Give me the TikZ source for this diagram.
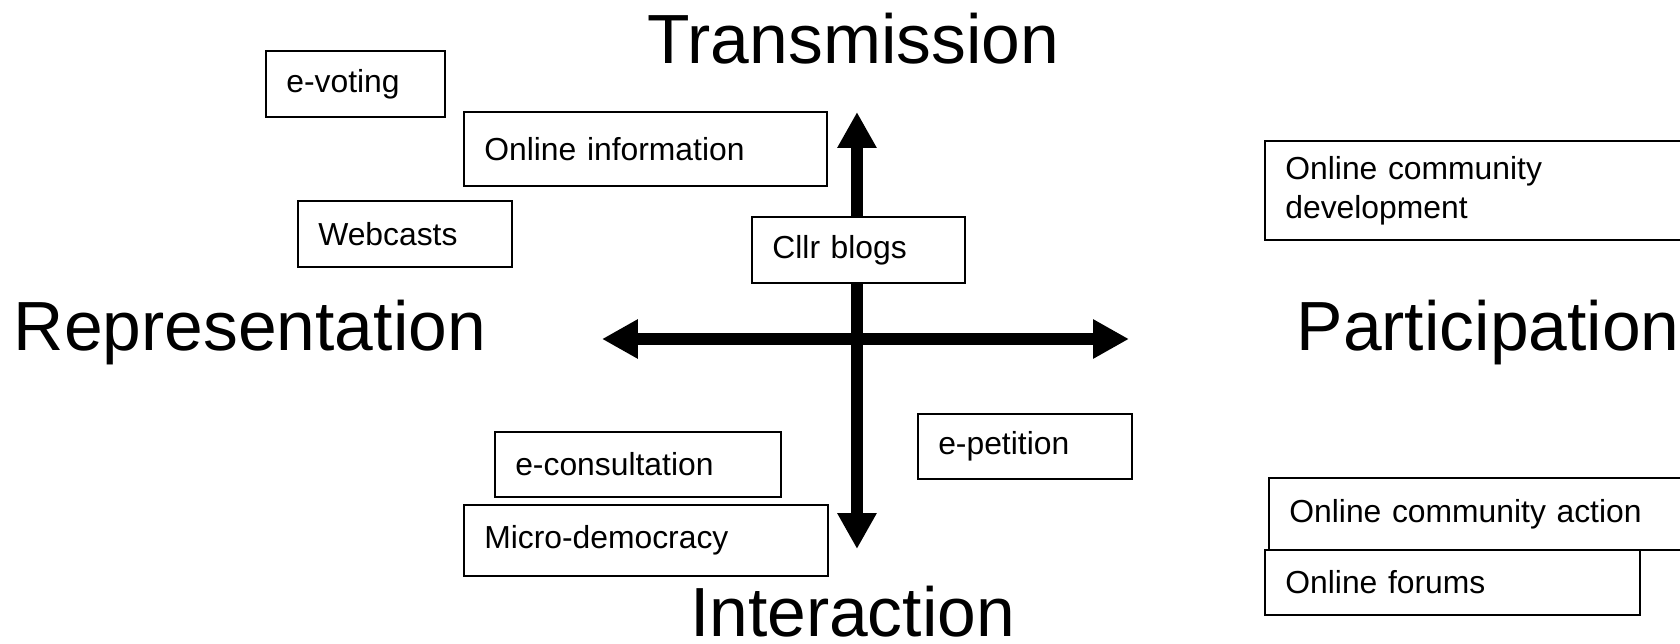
\documentclass[tikz,border=0pt]{standalone}
\usepackage{fontspec}
\setmainfont{Liberation Sans}
\usetikzlibrary{arrows.meta}

\begin{document}
\begin{tikzpicture}[
  x=1cm,
  y=1cm,
  font=\fontsize{15.1}{18.6}\selectfont,
  box/.style={draw, line width=0.9pt, fill=white, align=left, inner xsep=0.34cm, inner ysep=0pt, text width=#1},
  pole/.style={font=\fontsize{33}{39}\selectfont, inner sep=0pt, anchor=base},
  axis/.style={line width=5.6pt, {Triangle[length=17pt,width=17.5pt]}-{Triangle[length=17pt,width=17.5pt]}}
]

\clip (-14.283,-5.067) rectangle (13.717,5.65);

% Achsen
\coordinate (top)    at ( 0.000, 3.783);
\coordinate (bottom) at ( 0.000,-3.500);
\coordinate (left)   at (-4.250, 0.000);
\coordinate (right)  at ( 4.533, 0.000);

\draw[axis] (bottom) -- (top);
\draw[axis] (left) -- (right);

% Pole
\node[pole] (trans) at (-0.060, 4.595) {Transmission};
\node[pole] (inter) at (-0.075,-4.960) {Interaction};
\node[pole] (repr)  at (-10.117,-0.195) {Representation};
\node[pole] (part)  at ( 10.520,-0.195) {Participation};

% Kästen links
\node[box=2.30cm, minimum height=1.100cm] (eVoting)    at (-8.360, 4.250) {e-voting};
\node[box=5.37cm, minimum height=1.233cm] (onlineInfo) at (-3.525, 3.167) {Online information};
\node[box=2.89cm, minimum height=1.100cm] (webcasts)   at (-7.533, 1.750) {Webcasts};
\node[box=4.09cm, minimum height=1.083cm] (eConsult)   at (-3.650,-2.092) {e-consultation};
\node[box=5.39cm, minimum height=1.183cm] (microDem)   at (-3.517,-3.358) {Micro-democracy};

% Kästen Mitte
\node[box=2.87cm, minimum height=1.100cm] (cllrBlogs)  at ( 0.025, 1.483) {Cllr blogs};
\node[box=2.89cm, minimum height=1.083cm] (ePetition)  at ( 2.800,-1.792) {e-petition};

% Kästen rechts
\node[box=6.82cm, minimum height=1.650cm] (commDev)    at (10.550, 2.475) {Online community\\development};
\node[box=6.82cm, minimum height=1.200cm] (commAction) at (10.617,-2.917) {Online community action};
\node[box=5.57cm, minimum height=1.083cm] (forums)     at ( 9.925,-4.058) {Online forums};

\end{tikzpicture}
\end{document}
